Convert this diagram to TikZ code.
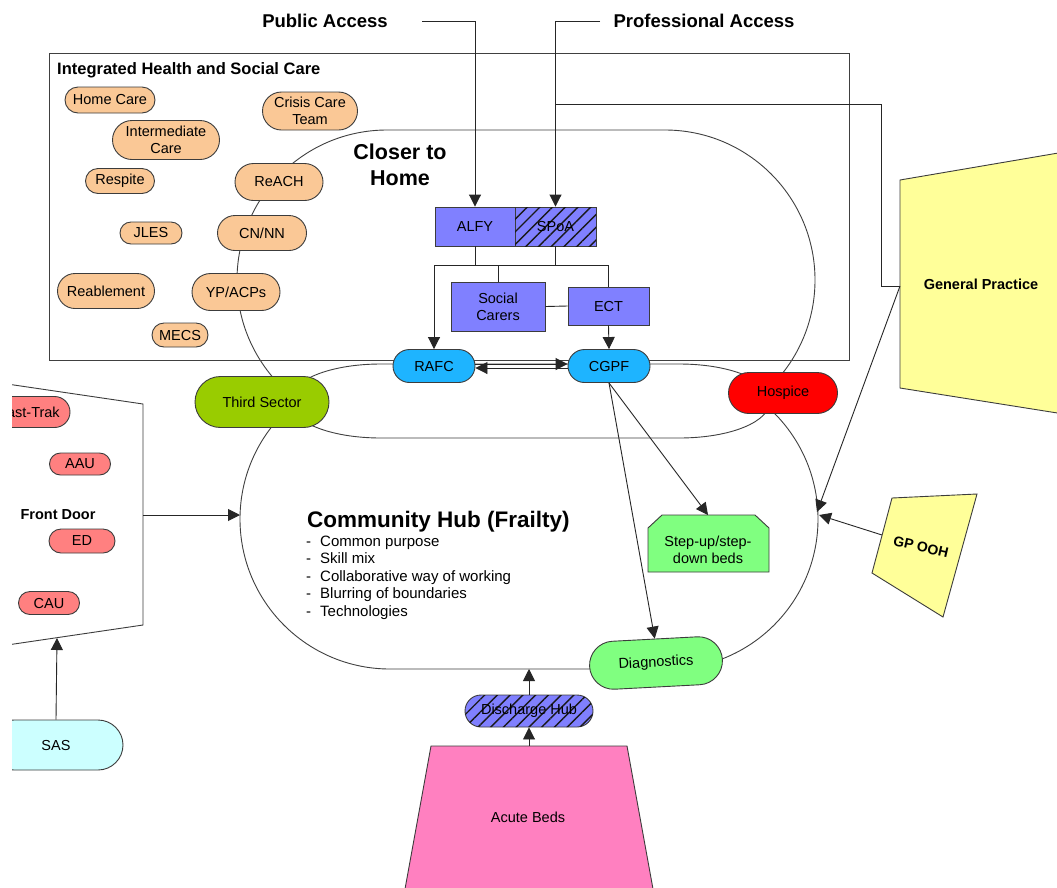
\documentclass[tikz,border=0pt]{standalone}
\usepackage{fontspec}
\setmainfont{Liberation Sans}
\usetikzlibrary{arrows.meta,patterns.meta,shapes.misc}

\definecolor{peach}{RGB}{250,200,150}
\definecolor{slate}{RGB}{128,128,255}
\definecolor{sky}{RGB}{30,180,255}
\definecolor{olive}{RGB}{153,204,0}
\definecolor{salmon}{RGB}{255,128,128}
\definecolor{mint}{RGB}{128,255,128}
\definecolor{paleyellow}{RGB}{255,255,153}
\definecolor{pinkbeds}{RGB}{255,128,192}
\definecolor{palecyan}{RGB}{204,255,255}
\definecolor{hospred}{RGB}{255,0,0}
\definecolor{edge}{RGB}{60,60,60}

\newcommand\lblfont{\fontsize{14.5}{17}\selectfont}

\begin{document}
\begin{tikzpicture}[x=1pt,y=-1pt,
  outline/.style={draw=edge, line width=0.9pt},
  pill/.style={rounded rectangle, outline, inner sep=0pt, align=center, font=\lblfont},
  boxnode/.style={rectangle, outline, inner sep=0pt, align=center, font=\lblfont, fill=slate},
  hatch/.style={postaction={pattern={Lines[angle=45,distance=9pt,line width=1.4pt]}, pattern color=black!90}},
  conn/.style={draw=black!85, line width=0.9pt},
  arr/.style={conn, -{Triangle[length=12pt,width=12pt]}},
  frame/.style={draw=black!75, line width=0.9pt},
  shapeline/.style={draw=edge, line width=0.9pt},
  heading/.style={font=\bfseries\fontsize{18.5}{22}\selectfont, inner sep=0pt}
]
\useasboundingbox (0,0) rectangle (1057,887);
\fill[white] (0,0) rectangle (1057,887);
\clip (12,0) rectangle (1057,887);

% --- the three overlapping areas ---
\draw[frame, rounded corners=150pt] (237,130) rectangle (815,430);
\draw[frame, rounded corners=150pt] (240,369) rectangle (818,669);
\draw[frame, fill=white] (381,364) -- (679,364)
  .. controls (730,364) and (770,380) .. (770,401)
  .. controls (770,422) and (730,438) .. (679,438) -- (381,438)
  .. controls (330,438) and (290,422) .. (290,401)
  .. controls (290,380) and (330,364) .. (381,364) -- cycle;

% --- integrated health and social care box ---
\draw[frame] (49,53) rectangle (849,360);
\node[anchor=west, font=\bfseries\fontsize{16.5}{20}\selectfont, inner sep=0pt] (ihsc) at (57,70) {Integrated Health and Social Care};

% --- outlined shapes ---
\draw[shapeline, fill=white] (-20,380) -- (143,404) -- (143,625) -- (-20,649) -- cycle;
\draw[shapeline, fill=paleyellow] (900,180) -- (1070,151) -- (1070,415) -- (900,388) -- cycle;
\draw[shapeline, fill=paleyellow] (892,498) -- (977,494) -- (943,617) -- (872,573) -- cycle;
\draw[shapeline, fill=pinkbeds] (431,746) -- (627,746) -- (655,900) -- (403,900) -- cycle;
\draw[shapeline, fill=mint] (648,528) -- (662,515) -- (755,515) -- (769,528) -- (769,572) -- (648,572) -- cycle;

% --- text labels ---
\node[heading] (pubacc) at (325,21) {Public Access};
\node[heading] (proacc) at (704,21) {Professional Access};
\node[font=\bfseries\fontsize{21.5}{26}\selectfont, align=center, inner sep=0pt] (closer) at (400,165) {Closer to\\Home};
\node[anchor=west, font=\bfseries\fontsize{22.5}{26}\selectfont, inner sep=0pt] (hubtitle) at (307,522) {Community Hub (Frailty)};
\node[anchor=north west, align=left, inner sep=0pt, font=\fontsize{15}{17.5}\selectfont] (hubpoints) at (306,535.5)
  {\makebox[14pt][l]{-}Common purpose\\
   \makebox[14pt][l]{-}Skill mix\\
   \makebox[14pt][l]{-}Collaborative way of working\\
   \makebox[14pt][l]{-}Blurring of boundaries\\
   \makebox[14pt][l]{-}Technologies};
\node[font=\bfseries\fontsize{14.5}{17}\selectfont, inner sep=0pt] (frontdoor) at (58,515) {Front Door};
\node[font=\bfseries\fontsize{14.5}{17}\selectfont, inner sep=0pt] (gptext) at (981,284) {General Practice};
\node[font=\bfseries\fontsize{14}{17}\selectfont, inner sep=0pt, rotate=-13] (oohtext) at (921,547) {GP~OOH};
\node[font=\lblfont, inner sep=0pt] (acute) at (528,817) {Acute Beds};
\node[font=\lblfont, align=center, inner sep=0pt] (stepup) at (708,550) {Step-up/step-\\down beds};

% --- integrated care services ---
\node[pill, fill=peach, minimum width=90, minimum height=26] (homecare) at (110,100) {Home Care};
\node[pill, fill=peach, minimum width=95, minimum height=38] (crisis) at (310,111) {Crisis Care\\Team};
\node[pill, fill=peach, minimum width=107, minimum height=39] (intermediate) at (166,140) {Intermediate\\Care};
\node[pill, fill=peach, minimum width=69, minimum height=25] (respite) at (120,181) {Respite};
\node[pill, fill=peach, minimum width=88, minimum height=37] (reach) at (279,182) {ReACH};
\node[pill, fill=peach, minimum width=62, minimum height=22] (jles) at (151,233) {JLES};
\node[pill, fill=peach, minimum width=89, minimum height=35] (cnnn) at (262,233) {CN/NN};
\node[pill, fill=peach, minimum width=97, minimum height=35] (reablement) at (106,291) {Reablement};
\node[pill, fill=peach, minimum width=88, minimum height=37] (ypacps) at (236,292) {YP/ACPs};
\node[pill, fill=peach, minimum width=56, minimum height=24] (mecs) at (180,335) {MECS};

% --- access points and teams ---
\node[boxnode, minimum width=80, minimum height=39] (alfy) at (475,226.5) {ALFY};
\node[boxnode, hatch, minimum width=81, minimum height=39] (spoa) at (555.5,226.5) {SPoA};
\node[boxnode, minimum width=94, minimum height=49] (social) at (498,306.5) {Social\\Carers};
\node[boxnode, minimum width=81, minimum height=38] (ect) at (608.5,306) {ECT};

\node[pill, fill=sky, minimum width=82, minimum height=33] (rafc) at (434,366) {RAFC};
\node[pill, fill=sky, minimum width=82, minimum height=33] (cgpf) at (609,366) {CGPF};
\node[pill, fill=olive, minimum width=134, minimum height=51] (third) at (262,402) {Third Sector};
\node[pill, fill=hospred, minimum width=109, minimum height=41] (hospice) at (783,393) {Hospice};
\node[pill, fill=mint, minimum width=133, minimum height=48, rotate=3] (diag) at (656,663) {Diagnostics};
\node[pill, fill=slate, hatch, minimum width=128, minimum height=32] (dhub) at (529,711) {Discharge Hub};
\node[pill, fill=palecyan, minimum width=134, minimum height=50] (sas) at (56,745) {SAS};

% --- front door services ---
\node[pill, fill=salmon, minimum width=82, minimum height=31] (fasttrak) at (29,412) {Fast-Trak};
\node[pill, fill=salmon, minimum width=61, minimum height=22] (aau) at (80,464) {AAU};
\node[pill, fill=salmon, minimum width=66, minimum height=24] (ed) at (82,541) {ED};
\node[pill, fill=salmon, minimum width=61, minimum height=23] (cau) at (49,603) {CAU};

% --- connector end points on the outlined shapes ---
\coordinate (pubstart) at (422,21);
\coordinate (prostart) at (600,21);
\coordinate (profjoin) at (555.5,104);
\coordinate (gpw) at (900,286);
\coordinate (hubeast) at (817,512);
\coordinate (hubeast2) at (819,515);
\coordinate (oohwest) at (882,535);
\coordinate (fdeast) at (143,515);
\coordinate (hubwest) at (240,515);
\coordinate (fdsouth) at (57,638);
\coordinate (stepuptop) at (708,515);
\coordinate (hubsouth) at (529,669);
\coordinate (acutetop) at (529,746);
\coordinate (busl) at (434,265);
\coordinate (busr) at (609,265);

% --- connectors ---
\draw[arr] (pubstart) -| (alfy.north);
\draw[arr] (prostart) -| (spoa.north);
\draw[conn] (gpw) -| (881,104) -- (profjoin);
\draw[arr] (gpw) -- (hubeast);
\draw[arr] (oohwest) -- (hubeast2);
\draw[arr] (fdeast) -- (hubwest);
\draw[arr] (sas.north) -- (fdsouth);

\draw[conn] (busl) -- (busr);
\draw[conn] (alfy.south) -- (alfy.south |- busl);
\draw[conn] (spoa.south) -- (spoa.south |- busl);
\draw[conn] (social.north |- busl) -- (social.north);
\draw[conn] (ect.north |- busl) -- (ect.north);
\draw[arr] (busl) -- (rafc.north);
\draw[conn] (social.east) -- (ect.west);
\draw[arr] (ect.south) -- (cgpf.north);
\draw[arr] ([yshift=2pt]rafc.east) -- ([yshift=2pt]cgpf.west);
\draw[arr] ([yshift=-2pt]cgpf.west) -- ([yshift=-2pt]rafc.east);
\draw[arr] (cgpf.south) -- (stepuptop);
\draw[arr] (cgpf.south) -- (diag.north);
\draw[arr] (dhub.north) -- (hubsouth);
\draw[arr] (acutetop) -- (dhub.south);
\end{tikzpicture}
\end{document}
